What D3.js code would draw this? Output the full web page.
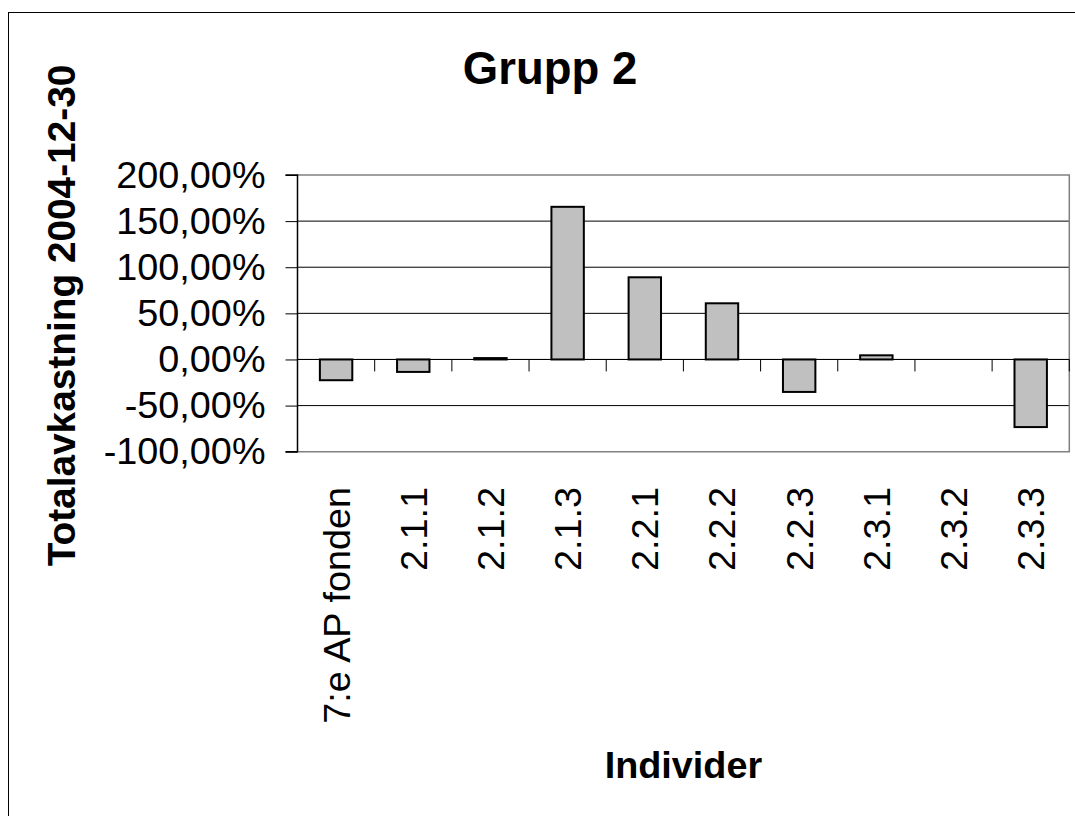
<!DOCTYPE html>
<html>
<head>
<meta charset="utf-8">
<script src="https://cdn.jsdelivr.net/npm/d3@7"></script>
<style>
  html, body { margin: 0; padding: 0; background: #fff; }
  svg { display: block; font-family: Arial, "Liberation Sans", sans-serif; }
</style>
</head>
<body>
<svg id="chart" width="1075" height="816"></svg>
<script>
// Categories (individuals) and their total return up to 2004-12-30, in percent
const categories = ["7:e AP fonden", "2.1.1", "2.1.2", "2.1.3", "2.2.1", "2.2.2", "2.2.3", "2.3.1", "2.3.2", "2.3.3"];
const returns = [-22.5, -13.5, 1.5, 165.5, 89.1, 60.9, -35.2, 4.5, 0, -73.3];
const yTicks = [-100, -50, 0, 50, 100, 150, 200];

const titleText = "Grupp 2";
const yTitleText = "Totalavkastning 2004-12-30";
const xTitleText = "Individer";

const svg = d3.select("#chart");

// Plot area
const plot = { left: 297.5, right: 1069.3, top: 175, bottom: 451.7 };

const x = d3.scaleBand()
  .domain(categories)
  .range([plot.left, plot.right])
  .paddingInner(0.58)
  .paddingOuter(0.29);

const xBand = d3.scaleBand().domain(categories).range([plot.left, plot.right]);

const y = d3.scaleLinear().domain([-100, 200]).range([plot.bottom, plot.top]);

// Swedish style percent labels: decimal comma, plain hyphen for minus
const locale = d3.formatLocale({ decimal: ",", thousands: " ", grouping: [3], currency: ["", " kr"], minus: "-" });
const fmt = v => locale.format(".2f")(v) + "%";

// Outer chart frame
svg.append("rect")
  .attr("x", 8.5).attr("y", 12.5)
  .attr("width", 1200).attr("height", 1000)
  .attr("fill", "none").attr("stroke", "#000").attr("stroke-width", 1);

// Horizontal gridlines
svg.append("g")
  .selectAll("line")
  .data(yTicks.filter(t => t !== -100 && t !== 200))
  .join("line")
  .attr("x1", plot.left).attr("x2", plot.right)
  .attr("y1", d => y(d)).attr("y2", d => y(d))
  .attr("stroke", "#000").attr("stroke-width", 1);

// Plot area border (grey) on top, right and bottom
svg.append("path")
  .attr("d", `M${plot.left},${y(200)}H${plot.right}V${y(-100)}H${plot.left}`)
  .attr("fill", "none").attr("stroke", "#808080").attr("stroke-width", 1.5);

// Bars
svg.append("g")
  .selectAll("rect")
  .data(categories.map((c, i) => ({ c, v: returns[i] })))
  .join("rect")
  .attr("x", d => x(d.c))
  .attr("width", x.bandwidth())
  .attr("y", d => y(Math.max(0, d.v)))
  .attr("height", d => Math.abs(y(d.v) - y(0)))
  .attr("fill", "#c0c0c0")
  .attr("stroke", "#000")
  .attr("stroke-width", 2);

// Category axis along zero, ticks between categories
const xAxisG = svg.append("g");
xAxisG.append("line")
  .attr("x1", plot.left).attr("x2", plot.right)
  .attr("y1", y(0)).attr("y2", y(0))
  .attr("stroke", "#000").attr("stroke-width", 1);
xAxisG.selectAll("line.tick")
  .data(categories.slice(1).concat([null]))
  .join("line")
  .attr("class", "tick")
  .attr("x1", d => d === null ? plot.right : xBand(d))
  .attr("x2", d => d === null ? plot.right : xBand(d))
  .attr("y1", y(0)).attr("y2", y(0) + 12)
  .attr("stroke", "#000").attr("stroke-width", 1);

// Category labels, rotated
svg.append("g")
  .selectAll("text")
  .data(categories)
  .join("text")
  .attr("transform", d => `translate(${xBand(d) + xBand.bandwidth() / 2 + 13.5},487) rotate(-90)`)
  .attr("text-anchor", "end")
  .attr("font-size", 37.8)
  .attr("fill", "#000")
  .text(d => d);

// Value axis
const yAxis = d3.axisLeft(y).tickValues(yTicks).tickSize(12).tickFormat(fmt);
const yAxisG = svg.append("g")
  .attr("transform", `translate(${plot.left},0)`)
  .call(yAxis);
yAxisG.select(".domain").attr("stroke", "#000").attr("stroke-width", 1.5).attr("d", `M-12,${y(200)}H0V${y(-100)}H-12`);
yAxisG.selectAll(".tick line").attr("stroke", "#000");
yAxisG.selectAll(".tick text")
  .attr("x", -32)
  .attr("font-size", 37.8)
  .attr("font-family", "Arial, 'Liberation Sans', sans-serif")
  .attr("fill", "#000");

// Titles
svg.append("text")
  .attr("x", 550).attr("y", 84)
  .attr("text-anchor", "middle")
  .attr("font-size", 45.5).attr("font-weight", "bold")
  .text(titleText);

svg.append("text")
  .attr("transform", "translate(75,315.5) rotate(-90)")
  .attr("text-anchor", "middle")
  .attr("font-size", 38.8).attr("font-weight", "bold")
  .text(yTitleText);

svg.append("text")
  .attr("x", (plot.left + plot.right) / 2).attr("y", 778)
  .attr("text-anchor", "middle")
  .attr("font-size", 37.8).attr("font-weight", "bold")
  .text(xTitleText);
</script>
</body>
</html>
